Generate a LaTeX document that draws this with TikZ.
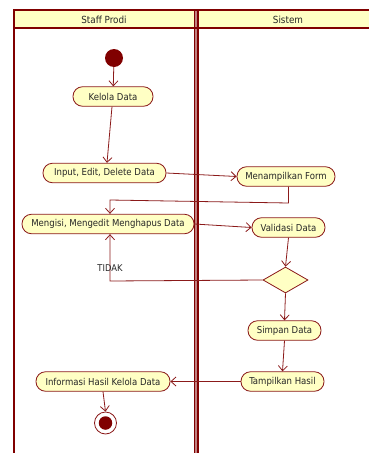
\documentclass[tikz,border=0pt]{standalone}
\usepackage{fontspec}
\setmainfont{DejaVu Sans Condensed}
\usetikzlibrary{arrows.meta,shapes.geometric}
\definecolor{lane}{HTML}{800000}
\definecolor{edge}{HTML}{8B1A1A}
\definecolor{fillY}{HTML}{FFFFC4}
\tikzset{
  act/.style={draw=edge, line width=0.8pt, fill=fillY, rounded corners=9.5pt, minimum height=19.5pt, inner sep=0pt, font=\fontsize{9.5}{11}\selectfont, text=black!85},
  flow/.style={draw=edge, line width=0.8pt, -{Straight Barb[length=5pt,width=9pt,line width=0.8pt]}},
  lanebar/.style={draw=lane, line width=2pt},
}
\begin{document}
\begin{tikzpicture}[x=1pt,y=-1pt]
\useasboundingbox (0,0) rectangle (368,453);
% swimlanes
\fill[fillY] (14,10) rectangle (370,28);
\fill[edge!55] (194.5,10) rectangle (197.8,453);
\draw[lanebar] (370,10) -- (14,10) -- (14,453);
\draw[lanebar] (14,28) -- (370,28);
\draw[lane, line width=1.6pt] (194.5,10) -- (194.5,453);
\draw[lane, line width=1.6pt] (197.8,10) -- (197.8,453);
\node[font=\fontsize{9.8}{11}\selectfont, text=black!85] (h1) at (104,19.5) {Staff Prodi};
\node[font=\fontsize{9.8}{11}\selectfont, text=black!85] (h2) at (288,19.5) {Sistem};
% nodes
\node[circle, fill=lane, minimum size=18pt, inner sep=0pt] (start) at (114,58) {};
\node[act, minimum width=80pt] (kelola) at (113,96.5) {Kelola Data};
\node[act, minimum width=123pt] (input) at (104.5,173) {Input, Edit, Delete Data};
\node[act, minimum width=98pt] (form) at (286,176.5) {Menampilkan Form};
\node[act, minimum width=172pt] (isi) at (108,224) {Mengisi, Mengedit Menghapus Data};
\node[act, minimum width=73pt] (valid) at (288.5,227.5) {Validasi Data};
\node[diamond, draw=edge, line width=0.8pt, fill=fillY, minimum width=45pt, minimum height=26pt, inner sep=0pt, aspect=1.7] (dec) at (285.5,280) {};
\node[act, minimum width=73pt] (simpan) at (284.5,330.5) {Simpan Data};
\node[act, minimum width=83pt] (tampil) at (282.5,381.5) {Tampilkan Hasil};
\node[act, minimum width=134pt] (info) at (103,381.5) {Informasi Hasil Kelola Data};
\node[circle, draw=edge, line width=0.8pt, fill=white, minimum size=22pt, inner sep=0pt] (end) at (105.5,423) {};
\node[circle, fill=lane, minimum size=13.5pt, inner sep=0pt] (endin) at (105.5,423) {};
% helper coordinates
\coordinate (j1) at (288.5,203);
\coordinate (j2) at (110,200);
\coordinate (j3) at (110,281);
% edges
\draw[flow] (start) -- (kelola);
\draw[flow] ([xshift=-1pt]kelola.south) -- ([xshift=2.5pt]input.north);
\draw[flow] (input.east) -- (form.west);
\draw[flow] ([xshift=2.5pt]form.south) -- (j1) -- (j2) -- ([xshift=2pt]isi.north);
\draw[flow] (isi.east) -- (valid.west);
\draw[flow] (valid.south) -- (dec.north);
\draw[flow] (dec.west) -- (j3) -- ([xshift=2pt]isi.south);
\node[font=\fontsize{9.3}{11}\selectfont, text=black!85] (tidak) at (110,268) {TIDAK};
\draw[flow] (dec.south) -- (simpan.north);
\draw[flow] (simpan.south) -- (tampil.north);
\draw[flow] (tampil.west) -- (info.east);
\draw[flow] (info.south) -- (end.north);
\end{tikzpicture}
\end{document}
